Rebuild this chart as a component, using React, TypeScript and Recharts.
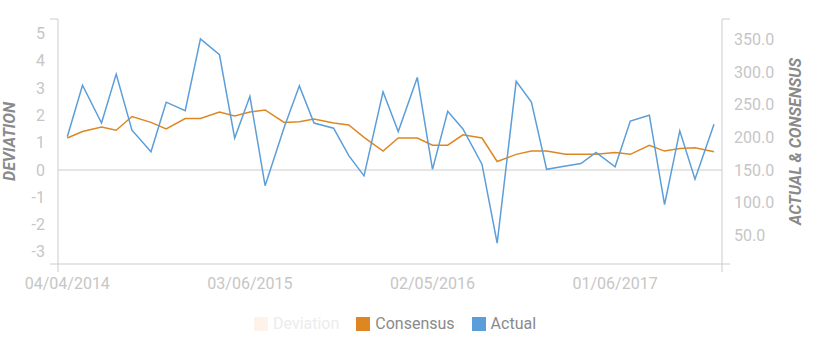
import React from 'react';
import { LineChart, Line, XAxis, YAxis, ReferenceLine, Legend } from 'recharts';

// ---- data ----
const releaseDates = [
  '2014-04-04', '2014-05-02', '2014-06-06', '2014-07-03', '2014-08-01', '2014-09-05', '2014-10-03', '2014-11-07', '2014-12-05',
  '2015-01-09', '2015-02-06', '2015-03-06', '2015-04-03', '2015-05-08', '2015-06-05', '2015-07-02', '2015-08-07', '2015-09-04', '2015-10-02', '2015-11-06', '2015-12-04',
  '2016-01-08', '2016-02-05', '2016-03-04', '2016-04-01', '2016-05-06', '2016-06-03', '2016-07-08', '2016-08-05', '2016-09-02', '2016-10-07', '2016-11-04', '2016-12-02',
  '2017-01-06', '2017-02-03', '2017-03-10', '2017-04-07', '2017-05-05', '2017-06-02', '2017-07-07',
];

const actualValues = [
  201, 280, 222, 297, 211, 178, 254, 241, 351,
  327, 199, 263, 126, 215, 279, 222, 214, 172, 141, 270, 209,
  292, 151, 240, 213, 159, 38, 286, 254, 151, 156, 160, 177,
  155, 225, 234, 97, 210, 136, 220,
];

const consensusValues = [
  199, 209, 216, 211, 232, 223, 213, 229, 229,
  239, 233, 239, 242, 223, 224, 228, 222, 219, 200, 179, 199,
  199, 188, 188, 204, 199, 163, 174, 179, 179, 174, 174, 174,
  177, 174, 188, 179, 183, 184, 178,
];

const dateTickLabels = ['2014-04-04', '2015-03-06', '2016-02-05', '2017-01-06'];
const deviationTicks = [-3, -2, -1, 0, 1, 2, 3, 4, 5];
const levelTicks = [50, 100, 150, 200, 250, 300, 350];
const seriesNames = ['Deviation', 'Consensus', 'Actual'];

// ---- settings ----
const DAY = 86400000;
const toTs = (s: string) => {
  const [y, m, d] = s.split('-').map(Number);
  return Date.UTC(y, m - 1, d);
};
const DEV_DOMAIN: [number, number] = [-3.44, 5.53];
const LEVEL_DOMAIN: [number, number] = [5.9, 381.5];
const firstTs = toTs(releaseDates[0]);
const lastTs = toTs(releaseDates[releaseDates.length - 1]);
const X_DOMAIN: [number, number] = [firstTs - 17.1 * DAY, lastTs + 14.7 * DAY];

const COLORS = {
  deviation: '#fdf3e8',
  consensus: '#de8722',
  actual: '#5b9ed9',
  axis: '#cccccc',
  tick: '#c6c6c6',
  title: '#8a8a8a',
  legend: '#8a8a8a',
  legendInactive: '#ececec',
};
const FONT = 'Roboto, sans-serif';

const data = releaseDates.map((d, i) => ({
  t: toTs(d),
  actual: actualValues[i],
  consensus: consensusValues[i],
}));

const pad = (n: number) => (n < 10 ? '0' + n : '' + n);
const fmtDate = (ts: number) => {
  const dt = new Date(ts);
  return `${pad(dt.getUTCMonth() + 1)}/${pad(dt.getUTCDate())}/${dt.getUTCFullYear()}`;
};

const DateTick = (props: any) => {
  const { x, y, payload } = props;
  const v = payload.value;
  if (v === X_DOMAIN[0] || v === X_DOMAIN[1]) {
    return <line x1={x} x2={x} y1={y} y2={y + 8} stroke={COLORS.axis} strokeWidth={1} />;
  }
  return (
    <text x={x} y={y} dy={25} textAnchor="middle" fill={COLORS.tick} fontSize={16} fontFamily={FONT}>
      {fmtDate(v)}
    </text>
  );
};

const LeftTick = (props: any) => {
  const { x, y, payload } = props;
  const v = payload.value;
  if (v === DEV_DOMAIN[0] || v === DEV_DOMAIN[1]) {
    return <line x1={x - 8} x2={x} y1={y} y2={y} stroke={COLORS.axis} strokeWidth={1} />;
  }
  return (
    <text x={x - 13} y={y} dy={5.5} textAnchor="end" fill={COLORS.tick} fontSize={16} fontFamily={FONT}>
      {String(v)}
    </text>
  );
};

const RightTick = (props: any) => {
  const { x, y, payload } = props;
  const v = payload.value;
  if (v === LEVEL_DOMAIN[0] || v === LEVEL_DOMAIN[1]) {
    return <line x1={x} x2={x + 8} y1={y} y2={y} stroke={COLORS.axis} strokeWidth={1} />;
  }
  return (
    <text x={x + 12} y={y} dy={5.5} textAnchor="start" fill={COLORS.tick} fontSize={16} fontFamily={FONT}>
      {v.toFixed(1)}
    </text>
  );
};

const LeftTitle = (props: any) => {
  const vb = props.viewBox || { x: 0, y: 19, width: 58, height: 245 };
  const cx = 9;
  const cy = vb.y + vb.height / 2;
  return (
    <text x={cx} y={cy} transform={`rotate(-90 ${cx} ${cy})`} textAnchor="middle" dominantBaseline="central"
      fill={COLORS.title} fontSize={16} fontWeight="bold" fontStyle="italic" fontFamily={FONT}>
      DEVIATION
    </text>
  );
};

const RightTitle = (props: any) => {
  const vb = props.viewBox || { x: 722, y: 19, width: 105, height: 245 };
  const cx = 795.5;
  const cy = vb.y + vb.height / 2;
  return (
    <text x={cx} y={cy} transform={`rotate(-90 ${cx} ${cy})`} textAnchor="middle" dominantBaseline="central"
      fill={COLORS.title} fontSize={16} fontWeight="bold" fontStyle="italic" fontFamily={FONT}>
      ACTUAL &amp; CONSENSUS
    </text>
  );
};

const legendColors = [COLORS.deviation, COLORS.consensus, COLORS.actual];
const legendTextColors = [COLORS.legendInactive, COLORS.legend, COLORS.legend];

const LegendContent = () => (
  <div style={{ display: 'flex', alignItems: 'center', height: 32, paddingLeft: 254, boxSizing: 'border-box', width: 827 }}>
    {seriesNames.map((name, i) => (
      <div key={name} style={{ display: 'flex', alignItems: 'center', height: 20, marginRight: 17, alignSelf: 'flex-start' }}>
        <span style={{ display: 'inline-block', width: 14, height: 14, background: legendColors[i], marginRight: 5 }} />
        <span style={{ fontFamily: FONT, fontSize: 16, lineHeight: '20px', color: legendTextColors[i] }}>{name}</span>
      </div>
    ))}
  </div>
);

export default function App() {
  return (
    <div style={{ position: 'absolute', left: 0, top: 0, width: 827, height: 354, background: '#fff' }}>
      <LineChart width={827} height={354} data={data} margin={{ top: 19, right: 0, bottom: 8, left: 0 }} style={{ fontFamily: FONT }}>
        <XAxis
          dataKey="t"
          type="number"
          scale="linear"
          domain={X_DOMAIN}
          allowDataOverflow
          ticks={[X_DOMAIN[0], ...dateTickLabels.map(toTs), X_DOMAIN[1]]}
          interval={0}
          tick={<DateTick />}
          tickLine={false}
          tickSize={0}
          tickMargin={0}
          height={50}
          axisLine={{ stroke: COLORS.axis, strokeWidth: 1 }}
        />
        <YAxis
          yAxisId="left"
          orientation="left"
          type="number"
          domain={DEV_DOMAIN}
          allowDataOverflow
          ticks={[DEV_DOMAIN[0], ...deviationTicks, DEV_DOMAIN[1]]}
          interval={0}
          tick={<LeftTick />}
          tickLine={false}
          tickSize={0}
          tickMargin={0}
          width={58}
          axisLine={{ stroke: COLORS.axis, strokeWidth: 1 }}
          label={<LeftTitle />}
        />
        <YAxis
          yAxisId="right"
          orientation="right"
          type="number"
          domain={LEVEL_DOMAIN}
          allowDataOverflow
          ticks={[LEVEL_DOMAIN[0], ...levelTicks, LEVEL_DOMAIN[1]]}
          interval={0}
          tick={<RightTick />}
          tickLine={false}
          tickSize={0}
          tickMargin={0}
          width={105}
          axisLine={{ stroke: COLORS.axis, strokeWidth: 1 }}
          label={<RightTitle />}
        />
        <ReferenceLine yAxisId="left" y={0} stroke={COLORS.axis} strokeWidth={1} />
        <Line
          yAxisId="right"
          type="linear"
          dataKey="consensus"
          name="Consensus"
          stroke={COLORS.consensus}
          strokeWidth={1.5}
          dot={false}
          isAnimationActive={false}
        />
        <Line
          yAxisId="right"
          type="linear"
          dataKey="actual"
          name="Actual"
          stroke={COLORS.actual}
          strokeWidth={1.5}
          dot={false}
          isAnimationActive={false}
        />
        <Legend
          verticalAlign="bottom"
          content={<LegendContent />}
          wrapperStyle={{ left: 0, width: 827, height: 32 }}
        />
      </LineChart>
    </div>
  );
}
